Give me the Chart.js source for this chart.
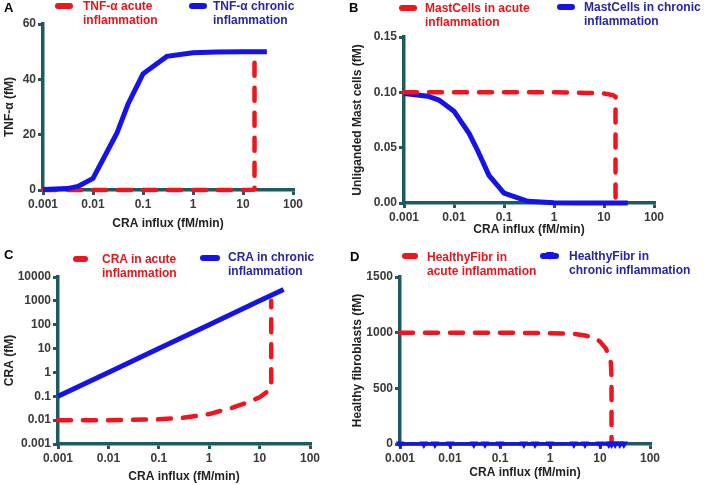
<!DOCTYPE html>
<html>
<head>
<meta charset="utf-8">
<script src="https://cdn.jsdelivr.net/npm/chart.js@4.4.0/dist/chart.umd.min.js"></script>
<style>
body { margin: 0; background: #fff; width: 704px; height: 485px; position: relative; overflow: hidden; font-family: "Liberation Sans", Arial, sans-serif; }
.panel { position: absolute; }
.lbl { position: absolute; font-weight: bold; font-size: 12px; line-height: 14px; white-space: nowrap; z-index: 2; }
.red { color: #e8141b; }
.blue { color: #2626a6; }
.letter { position: absolute; font-weight: bold; font-size: 13px; line-height: 14px; color: #000; z-index: 2; }
.mk { position: absolute; height: 6px; border-radius: 3px; z-index: 2; }
.tri { position: absolute; width: 0; height: 0; border-left: 4px solid transparent; border-right: 4px solid transparent; border-top: 8px solid #1414e8; z-index: 3; }
</style>
</head>
<body>
<div class="panel" style="left:0;top:0"><canvas id="chartA" width="352" height="240"></canvas></div>
<div class="panel" style="left:348px;top:0"><canvas id="chartB" width="356" height="240"></canvas></div>
<div class="panel" style="left:0;top:240px"><canvas id="chartC" width="352" height="245"></canvas></div>
<div class="panel" style="left:348px;top:240px"><canvas id="chartD" width="356" height="245"></canvas></div>

<!-- legends -->
<div class="letter" style="left:4px;top:1px">A</div>
<div class="mk" style="left:55px;top:3px;width:18px;background:#f0141c"></div>
<div class="lbl red" style="left:83px;top:-1px">TNF-α acute<br>inflammation</div>
<div class="mk" style="left:189px;top:3px;width:18px;background:#1414e8"></div>
<div class="lbl blue" style="left:213px;top:-1px">TNF-α chronic<br>inflammation</div>

<div class="letter" style="left:349px;top:1px">B</div>
<div class="mk" style="left:399px;top:5px;width:18px;background:#f0141c"></div>
<div class="lbl red" style="left:425px;top:1px">MastCells in acute<br>inflammation</div>
<div class="mk" style="left:557px;top:4px;width:18px;background:#1414e8"></div>
<div class="lbl blue" style="left:584px;top:0px">MastCells in chronic<br>inflammation</div>

<div class="letter" style="left:4px;top:248px">C</div>
<div class="mk" style="left:73px;top:256px;width:15px;background:#f0141c"></div>
<div class="lbl red" style="left:102px;top:252px">CRA in acute<br>inflammation</div>
<div class="mk" style="left:200px;top:255px;width:20px;background:#1414e8"></div>
<div class="lbl blue" style="left:228px;top:250px">CRA in chronic<br>inflammation</div>

<div class="letter" style="left:350px;top:250px">D</div>
<div class="mk" style="left:402px;top:253px;width:16px;background:#f0141c"></div>
<div class="lbl red" style="left:427px;top:250px">HealthyFibr in<br>acute inflammation</div>
<div class="mk" style="left:540px;top:253px;width:19px;background:#1414e8"></div>
<div class="tri" style="left:546px;top:252px"></div>
<div class="lbl blue" style="left:569px;top:249px">HealthyFibr in<br>chronic inflammation</div>

<script>
// shared x axis: CRA influx (fM/min), log scale
const xTickVals = [0.001, 0.01, 0.1, 1, 10, 100];

// Panel A - TNF-alpha
const tnfAcuteX = [0.001, 0.01, 0.1, 1, 10, 15, 17, 17];
const tnfAcuteY = [0, 0, 0, 0, 0, 0.1, 0.3, 50];
const tnfChronicX = [0.001, 0.003, 0.005, 0.01, 0.03, 0.05, 0.1, 0.3, 1, 3, 10, 30];
const tnfChronicY = [0.2, 0.5, 1.3, 4.2, 20.5, 31, 42, 48.3, 49.6, 49.9, 50, 50];
const tnfTicks = [0, 20, 40, 60];

// Panel B - unliganded mast cells
const mastAcuteX = [0.001, 0.01, 0.1, 1, 5, 10, 15, 17, 17];
const mastAcuteY = [0.1, 0.1, 0.1, 0.1, 0.0995, 0.099, 0.0975, 0.096, 0];
const mastChronicX = [0.001, 0.003, 0.005, 0.01, 0.02, 0.03, 0.05, 0.1, 0.3, 1, 3, 10, 30];
const mastChronicY = [0.099, 0.0965, 0.093, 0.083, 0.063, 0.047, 0.025, 0.009, 0.0015, 0.0002, 0, 0, 0];
const mastTicks = [0, 0.05, 0.1, 0.15];

// Panel C - CRA
const craAcuteX = [0.001, 0.01, 0.1, 0.3, 1, 3, 5, 10, 15, 17, 17];
const craAcuteY = [0.01, 0.01, 0.0108, 0.0125, 0.018, 0.034, 0.05, 0.09, 0.17, 0.26, 1000];
const craChronicX = [0.001, 0.01, 0.1, 1, 10, 30];
const craChronicY = [0.1, 1, 10, 100, 1000, 3000];
const craTicks = [0.001, 0.01, 0.1, 1, 10, 100, 1000, 10000];

// Panel D - healthy fibroblasts
const fibAcuteX = [0.001, 0.01, 0.1, 1, 3, 5, 8, 10, 13, 15, 16.5, 17, 17];
const fibAcuteY = [1000, 1000, 1000, 995, 990, 975, 950, 920, 860, 800, 730, 600, 0];
const fibChronicX = [0.001, 0.003, 0.005, 0.01, 0.03, 0.05, 0.1, 0.3, 0.5, 1, 3, 5, 10, 15, 17, 20, 25, 30];
const fibChronicY = [0, 0, 0, 0, 0, 0, 0, 0, 0, 0, 0, 0, 0, 0, 0, 0, 0, 0];
const fibTicks = [0, 500, 1000, 1500];

const axisColor = '#1d5a63';
const redLine = '#f0141c';
const blueLine = '#1414e8';
const tickFont = { family: '"Liberation Sans", Arial, sans-serif', size: 12, weight: 'bold' };

function pts(xs, ys) {
    return xs.map((x, i) => ({ x: x, y: ys[i] }));
}

function acuteSet(xs, ys) {
    return {
        data: pts(xs, ys),
        borderColor: redLine,
        borderWidth: 4.5,
        borderDash: [13, 12],
        borderCapStyle: 'round',
        pointRadius: 0,
        tension: 0,
        clip: false
    };
}

function chronicSet(xs, ys, width, markers) {
    return {
        data: pts(xs, ys),
        borderColor: blueLine,
        backgroundColor: blueLine,
        borderWidth: width,
        pointRadius: markers ? 5 : 0,
        pointStyle: 'triangle',
        rotation: 180,
        pointBorderWidth: 0,
        tension: 0,
        clip: false
    };
}

function makeChart(id, g) {
    const gridOpts = { drawOnChartArea: false, tickLength: 5, color: axisColor, lineWidth: 3, tickColor: axisColor, tickWidth: 3 };
    new Chart(document.getElementById(id), {
        type: 'line',
        data: { datasets: g.datasets },
        options: {
            responsive: false,
            animation: false,
            layout: { padding: { left: 0, top: g.T, right: g.W - g.R, bottom: g.pb } },
            plugins: { legend: { display: false }, tooltip: { enabled: false } },
            scales: {
                x: {
                    type: 'logarithmic',
                    min: 0.001,
                    max: 100,
                    afterBuildTicks: s => { s.ticks = xTickVals.map(v => ({ value: v })); },
                    afterFit: s => { s.height = g.xH; },
                    grid: gridOpts,
                    border: { color: axisColor, width: 3.5 },
                    ticks: { callback: v => String(v), font: tickFont, color: '#3a3a3a', autoSkip: false, maxRotation: 0, padding: 2 },
                    title: { display: true, text: 'CRA influx (fM/min)', font: tickFont, color: '#222', padding: { top: 0, bottom: 0 } }
                },
                y: {
                    type: g.yType,
                    min: g.yTicks[0],
                    max: g.yTicks[g.yTicks.length - 1],
                    afterBuildTicks: s => { s.ticks = g.yTicks.map(v => ({ value: v })); },
                    afterFit: s => { s.width = g.L; },
                    grid: gridOpts,
                    border: { color: axisColor, width: 3.5 },
                    ticks: { callback: g.yFmt, font: tickFont, color: '#3a3a3a', autoSkip: false, padding: 2 },
                    title: { display: true, text: g.yTitle, font: tickFont, color: '#222', padding: { top: 2, bottom: 0 } }
                }
            }
        }
    });
}

makeChart('chartA', {
    W: 352, L: 43, R: 293, T: 24, pb: 9, xH: 41,
    yType: 'linear', yTicks: tnfTicks, yFmt: v => String(v), yTitle: 'TNF-α (fM)',
    datasets: [chronicSet(tnfChronicX, tnfChronicY, 5, false), acuteSet(tnfAcuteX, tnfAcuteY)]
});

makeChart('chartB', {
    W: 356, L: 56, R: 306, T: 37, pb: 3, xH: 34,
    yType: 'linear', yTicks: mastTicks, yFmt: v => Number(v).toFixed(2), yTitle: 'Unliganded Mast cells (fM)',
    datasets: [acuteSet(mastAcuteX, mastAcuteY), chronicSet(mastChronicX, mastChronicY, 5, false)]
});

makeChart('chartC', {
    W: 352, L: 58, R: 310, T: 37, pb: 1, xH: 40,
    yType: 'logarithmic', yTicks: craTicks, yFmt: v => String(v), yTitle: 'CRA (fM)',
    datasets: [chronicSet(craChronicX, craChronicY, 5, false), acuteSet(craAcuteX, craAcuteY)]
});

makeChart('chartD', {
    W: 356, L: 52, R: 302, T: 37, pb: 5, xH: 36,
    yType: 'linear', yTicks: fibTicks, yFmt: v => String(v), yTitle: 'Healthy fibroblasts (fM)',
    datasets: [chronicSet(fibChronicX, fibChronicY, 3.5, true), acuteSet(fibAcuteX, fibAcuteY)]
});
</script>
</body>
</html>
